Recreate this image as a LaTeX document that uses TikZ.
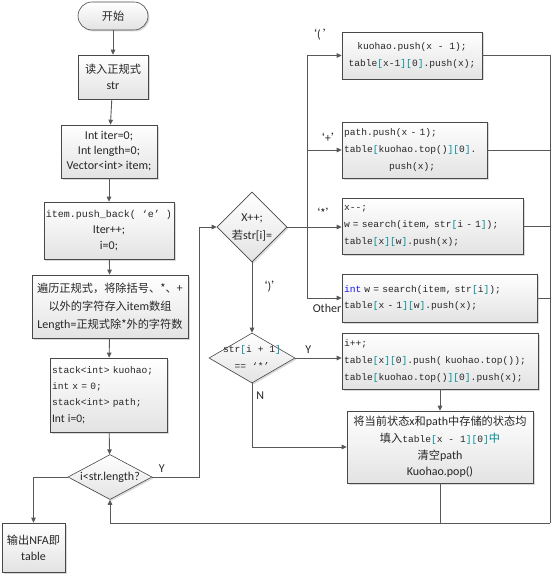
\documentclass[tikz,border=0pt]{standalone}
\usepackage{fontspec}
\setmainfont{Carlito}[Scale=1.2]
\setmonofont{Liberation Mono}
\newfontfamily\cjk{Noto Sans CJK SC}[Scale=1.12]
\usepackage{xcolor}
\usetikzlibrary{shapes.geometric,shadows,arrows.meta}

\definecolor{linegray}{RGB}{88,88,88}
\definecolor{boxline}{RGB}{72,72,72}
\definecolor{brk}{RGB}{0,140,150}
\definecolor{kw}{RGB}{20,20,240}
\newcommand{\tbr}[1]{\textcolor{brk}{#1}}

\tikzset{
  box/.style={draw=boxline, line width=0.6pt, top color=white, bottom color=black!11,
    drop shadow={shadow xshift=1.5pt, shadow yshift=-1.5pt, opacity=0.3},
    inner sep=2pt, align=center, text=black!85, font=\fontsize{10}{16}\selectfont},
  decide/.style={box, diamond, inner sep=-4pt},
  code/.style={font=\fontsize{9.6}{16.8}\selectfont\ttfamily},
  flow/.style={draw=linegray, line width=0.9pt},
  >={Triangle[length=5pt,width=4.5pt]},
  tag/.style={text=black!85, font=\fontsize{10}{12}\selectfont}
}

\begin{document}
\begin{tikzpicture}[x=1pt,y=-1pt]
		\useasboundingbox (0,0) rectangle (554,575);
		
		% left column
		\node[box, rounded corners=14pt, minimum width=70pt, minimum height=28pt] (Start) at (113,16) {\cjk 开始};
		\node[box, minimum width=70pt, minimum height=44pt] (ReadStr) at (113,77) {{\cjk 读入正规式}\\str};
		\node[box, minimum width=96pt, minimum height=53pt, font=\fontsize{10}{15}\selectfont] (InitVars) at (109,151.5) {Int iter=0;\\Int length=0;\\Vector<int> item;};
		\node[box, minimum width=128pt, minimum height=57pt] (PushE) at (109,230.5) {{\ttfamily item.push\_back( ‘e’ )}\\Iter++;\\i=0;};
		\node[box, minimum width=156pt, minimum height=63pt, font=\fontsize{10}{18}\selectfont] (ScanStr) at (110,306.5) {{\cjk 遍历正规式，将除括号、*、+}\\{\cjk 以外的字符存入}item{\cjk 数组}\\Length={\cjk 正规式除*外的字符数}};
		\node[box, code, align=left, text width=113pt, minimum height=74pt, font=\fontsize{9.6}{16.3}\selectfont\ttfamily] (InitStack) at (108.5,395) {stack<int> kuohao;\\int x = 0;\\stack<int> path;\\{\rmfamily Int i=0;}};
		\node[decide, shape aspect=1.9, minimum width=84pt, minimum height=45pt] (LoopTest) at (110,477) {i<str.length?};
		\node[box, minimum width=63pt, minimum height=49pt] (OutNFA) at (33.5,547.5) {{\cjk 输出}NFA{\cjk 即}\\table};
		
		% switch on str[i]
		\node[decide, minimum width=70pt, minimum height=70pt, font=\fontsize{10}{18}\selectfont] (CaseTest) at (252,227) {X++;\\{\cjk 若}str[i]=};
		\node[box, code, minimum width=140pt, minimum height=47pt] (CaseOpen) at (412,55.5) {kuohao.push(x - 1);\\table\tbr{[}x-1\tbr{]}\tbr{[}0\tbr{]}.push(x);};
		\node[box, code, align=left, text width=141pt, minimum height=56pt] (CasePlus) at (414.5,150) {path.push(x - 1);\\ table\tbr{[}kuohao.top()\tbr{]}\tbr{[}0\tbr{]}.\\\hspace*{45pt}push(x);};
		\node[box, code, align=left, text width=177pt, minimum height=56pt] (CaseStar) at (432.5,226) {x--;\\w = search(item, str\tbr{[}i - 1\tbr{]});\\table\tbr{[}x\tbr{]}\tbr{[}w\tbr{]}.push(x);};
		\node[box, code, align=left, text width=191pt, minimum height=48pt] (CaseOther) at (439.5,298) {\textcolor{kw}{int} w = search(item, str\tbr{[}i\tbr{]});\\table\tbr{[}x - 1\tbr{]}\tbr{[}w\tbr{]}.push(x);};
		
		\node[decide, code, shape aspect=1.7, minimum width=86pt, minimum height=50pt, font=\fontsize{9.6}{17}\selectfont\ttfamily] (StarTest) at (252,358) {str\tbr{[}i + 1\tbr{]}\\== ‘*’};
		\node[box, code, align=left, text width=192pt, minimum height=56pt] (StarYes) at (440,361) {i++;\\table\tbr{[}x\tbr{]}\tbr{[}0\tbr{]}.push( kuohao.top());\\ table\tbr{[}kuohao.top()\tbr{]}\tbr{[}0\tbr{]}.push(x);};
		\node[box, minimum width=186pt, minimum height=72pt, font=\fontsize{10}{16.7}\selectfont] (Close) at (440,447) {{\cjk 将当前状态}x{\cjk 和}path{\cjk 中存储的状态均}\\{\cjk 填入}{\fontsize{9.6}{16.7}\selectfont\ttfamily table\tbr{[}x - 1\tbr{]}\tbr{[}0\tbr{]}}{\cjk\color{brk}中}\\{\cjk 清空}path\\Kuohao.pop()};
		
		% case labels
		\node[tag] (LOpen) at (320,35) {{\cjk ‘}(\,{\cjk ’}};
		\node[tag] (LPlus) at (328,138) {\cjk ‘+’};
		\node[tag] (LStar) at (323,213) {\cjk ‘*’};
		\node[tag] (LOther) at (327,308) {Other};
		
		\coordinate (Bus) at (307,227);
		\coordinate (RBot) at (550,523);
		
		\draw[flow,->] (Start) -- (ReadStr);
		\draw[flow,->] (ReadStr) -- (InitVars);
		\draw[flow,->] (InitVars) -- (PushE);
		\draw[flow,->] (PushE) -- (ScanStr);
		\draw[flow,->] (ScanStr) -- (InitStack);
		\draw[flow,->] (InitStack) -- (LoopTest);
		\draw[flow,->] (LoopTest.west) -| (OutNFA.north);
		\draw[flow,->] (LoopTest.east) -- ++(47,0) node[tag, above, pos=0.2] {Y} |- (CaseTest.west);
		
		\draw[flow] (CaseTest.east) -- (Bus);
		\draw[flow,->] (Bus) |- (CaseOpen.west);
		\draw[flow,->] (Bus) |- (CasePlus.west);
		\draw[flow,->] (Bus) -- (Bus -| CaseStar.west);
		\draw[flow,->] (Bus) |- (CaseOther.west);
		
		\draw[flow,->] (CaseTest.south) -- (StarTest.north) node[tag, right, pos=0.35] {{\cjk ‘}){\cjk ’}};
		\draw[flow,->] (StarTest.east) -- (StarTest.east -| StarYes.west) node[tag, above, pos=0.28] {Y};
		\draw[flow,->] (StarYes.south) -- (Close.north);
		\draw[flow,->] (StarTest.south) |- (Close.west) node[tag, right, pos=0.1] {N};
		
		% back to the loop test
		\draw[flow] (CaseOpen.east) -- (CaseOpen.east -| RBot) -- (RBot);
		\draw[flow] (CasePlus.east) -- (CasePlus.east -| RBot);
		\draw[flow] (CaseStar.east) -- (CaseStar.east -| RBot);
		\draw[flow] (CaseOther.east) -- (CaseOther.east -| RBot);
		\draw[flow] (Close.south) -- (Close.south |- RBot);
		\draw[flow,->] (RBot) -| (LoopTest.south);
	\end{tikzpicture}
\end{document}
